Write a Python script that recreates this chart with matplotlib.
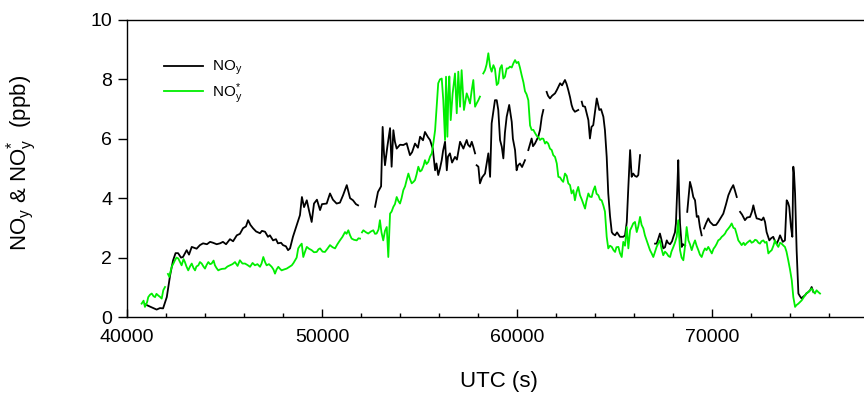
import numpy as np
import matplotlib
matplotlib.use("Agg")
import matplotlib.pyplot as plt
from matplotlib.ticker import MultipleLocator

plt.rcParams['font.family'] = ['Liberation Sans', 'DejaVu Sans']
plt.rcParams['mathtext.fontset'] = 'custom'
plt.rcParams['mathtext.rm'] = 'Liberation Sans'
plt.rcParams['mathtext.it'] = 'Liberation Sans:italic'

nan = np.nan

# NOy (black) : UTC seconds and ppb (nan = data gap)
noy_t = [40920, 41180, 41520, 41690, 41850, 42040, 42210, 42360, 42490, 42620,
         42770, 42870, 43060, 43180, 43320, 43570, 43740, 43900, 44100, 44260,
         44410, 44600, 44770, 44920, 45080, 45280, 45440, 45630, 45790, 45950,
         46100, 46210, 46330, 46460, 46620, 46820, 46920, 47080, 47230, 47330,
         47490, 47640, 47740, 47900, 48000, 48150, 48260, 48360, 48510, 48700,
         48870, 48970, 49080, 49220, 49330, 49470, 49590, 49740, 49900, 50000,
         50240, 50410, 50560, 50750, 50920, 51080, 51270, 51440, 51590, 51740,
         51850, 52300,
         52720, 52870, 53030, 53110, 53180, 53230, 53350, 53490, 53570, 53660,
         53740, 53830, 54000, 54170, 54340, 54510, 54620, 54770, 54920, 55030,
         55180, 55280, 55440, 55540, 55680, 55800, 55870, 55960, 56050, 56140,
         56210, 56310, 56400, 56460, 56560, 56670, 56820, 56920, 57080, 57250,
         57420, 57490, 57590, 57680, 57760, 57850, 57890,
         57930, 58020, 58100, 58210, 58360, 58530, 58620, 58700, 58740, 58870,
         58960, 59040, 59130, 59220, 59300, 59380, 59470, 59600, 59730, 59790,
         59900, 59980, 60050, 60150, 60260, 60410, 60500,
         60580, 60750, 60820, 60920, 61090, 61180, 61270, 61350, 61440,
         61520, 61590, 61690, 61800, 61950, 62050, 62210, 62310, 62460, 62540,
         62630, 62720, 62800, 62870, 62970, 63140, 63230,
         63320, 63380, 63490, 63660, 63740, 63820, 63910, 64000, 64090, 64220,
         64310, 64430, 64510, 64600, 64680, 64770, 64860, 64920, 65030, 65130,
         65280, 65450, 65540, 65630, 65710, 65800, 65880, 65960, 66050, 66140,
         66220, 66310, 66700,
         67080, 67160, 67230, 67330, 67410, 67500, 67590, 67680, 67740, 67850,
         67950, 68020, 68100, 68150, 68230, 68270, 68310, 68360, 68450, 68510,
         68620, 68680,
         68730, 68820, 68870, 68950, 69040, 69130, 69220, 69300, 69380, 69470, 69530,
         69590, 69690, 69810, 69900, 70070, 70210, 70320, 70460, 70580, 70720,
         70840, 70970, 71090, 71180, 71270, 71350,
         71440, 71540, 71690, 71800, 71950, 72050, 72120, 72210, 72290, 72410,
         72550, 72640, 72720, 72800, 72940, 73030, 73140, 73230, 73320, 73410,
         73490, 73630, 73740, 73830, 73900, 73960, 74050, 74120, 74170, 74210,
         74260, 74340, 74430, 74510, 74600, 74670, 74770, 74850, 74940, 75030,
         75110, 75200]
noy_v = [0.43, 0.35, 0.25, 0.30, 0.29, 0.67, 1.40, 1.90, 2.15, 2.15,
         2.00, 2.02, 2.25, 2.10, 2.36, 2.30, 2.42, 2.48, 2.45, 2.53,
         2.50, 2.45, 2.48, 2.53, 2.45, 2.62, 2.55, 2.75, 2.80, 2.99,
         3.05, 3.26, 3.10, 2.99, 2.88, 2.82, 2.90, 2.87, 2.70, 2.75,
         2.58, 2.62, 2.48, 2.50, 2.42, 2.38, 2.25, 2.31, 2.70, 3.09,
         3.43, 4.04, 3.70, 3.93, 3.60, 3.20, 3.82, 3.95, 3.60, 3.80,
         3.82, 4.16, 3.95, 3.82, 3.85, 4.10, 4.44, 4.00, 3.93, 3.80,
         3.76, nan,
         3.71, 4.21, 4.40, 6.40, 5.50, 5.11, 5.73, 6.36, 5.06, 6.29,
         5.90, 5.67, 5.80, 5.79, 5.85, 5.45, 5.55, 5.84, 5.70, 6.07,
         5.95, 6.23, 6.05, 5.96, 5.67, 4.94, 5.17, 4.78, 5.00, 5.28,
         5.60, 5.90, 4.94, 5.40, 5.51, 5.20, 5.39, 5.30, 5.90, 5.67,
         5.96, 5.80, 5.73, 5.90, 5.73, 5.51, nan,
         5.11, 5.06, 4.50, 4.70, 4.83, 5.51, 4.72, 6.52, 6.70, 7.30,
         7.30, 6.97, 5.96, 5.73, 5.34, 6.20, 6.74, 7.14, 6.57, 6.00,
         5.62, 4.94, 5.10, 5.17, 5.05, 5.28, nan,
         5.62, 6.01, 5.75, 5.84, 6.07, 6.30, 6.74, 6.97, nan,
         7.58, 7.45, 7.36, 7.45, 7.53, 7.65, 7.87, 7.80, 7.98, 7.85,
         7.64, 7.40, 7.14, 7.00, 6.91, 6.97, nan,
         7.25, 7.10, 7.08, 6.63, 6.01, 6.40, 6.46, 6.90, 7.36, 6.97,
         7.00, 6.74, 6.29, 5.39, 4.16, 3.40, 2.86, 2.80, 2.75, 2.85,
         2.70, 2.70, 2.75, 3.20, 4.38, 5.62, 4.72, 4.83, 4.75, 4.72,
         4.78, 5.45, nan,
         2.47, 2.47, 2.60, 2.81, 2.60, 2.31, 2.35, 2.58, 2.50, 2.45,
         2.55, 2.70, 2.85, 3.15, 4.50, 5.28, 4.20, 3.15, 2.36, 2.45,
         2.40, nan,
         3.54, 4.20, 4.55, 4.35, 4.04, 3.93, 3.37, 3.40, 3.03, 2.75, nan,
         2.98, 3.15, 3.32, 3.20, 3.09, 3.10, 3.20, 3.35, 3.48, 3.80,
         4.10, 4.30, 4.44, 4.25, 4.04, nan,
         3.54, 3.45, 3.26, 3.35, 3.37, 3.55, 3.76, 3.50, 3.32, 3.30,
         3.26, 3.35, 3.20, 2.86, 2.58, 2.65, 2.70, 2.55, 2.47, 2.60,
         2.75, 2.53, 2.58, 3.93, 3.85, 3.71, 3.03, 2.70, 5.06, 4.80,
         4.16, 2.25, 0.79, 0.70, 0.62, 0.68, 0.73, 0.80, 0.84, 0.90,
         1.01, 0.84]

# NOy* (green)
noys_t = [40750, 40850, 40920, 41030, 41090, 41180, 41270, 41360, 41440, 41510,
          41610, 41690, 41780, 41860, 41950, 42020,
          42100, 42170, 42290, 42380, 42460, 42540, 42630, 42720, 42800, 42900,
          42970, 43050, 43140, 43230, 43320, 43410, 43490, 43560, 43660, 43740,
          43830, 43920, 44000, 44080, 44170, 44260, 44340, 44440, 44510, 44590,
          44680, 44770, 44870, 45030, 45150, 45280, 45410, 45540, 45670, 45790,
          45920, 46050, 46180, 46310, 46440, 46560, 46690, 46820, 46900, 46990,
          47080, 47160, 47280, 47420, 47510, 47590, 47670, 47760, 47850, 47930,
          48050, 48190, 48310, 48450, 48540, 48620, 48700, 48780, 48870, 48960,
          49040, 49130, 49220, 49330, 49470, 49590, 49730, 49820, 49900, 50030,
          50150, 50280, 50410, 50540, 50670, 50790, 50920, 51050, 51180, 51260,
          51350, 51440, 51520, 51640, 51780, 51870, 51950, 52000,
          52050, 52120, 52260, 52370, 52510, 52630, 52720, 52800, 52900, 52970,
          53050, 53140, 53230, 53320, 53400, 53490, 53570, 53660, 53740, 53830,
          53920, 54000, 54080, 54170, 54260, 54340, 54430, 54510, 54600, 54690,
          54770, 54850, 54940, 55030, 55110, 55210, 55280, 55360, 55450, 55540,
          55630, 55720, 55800, 55880, 55960, 56050, 56140, 56220, 56310, 56360,
          56430, 56480, 56530, 56600, 56700, 56820, 56910, 56990, 57080, 57160,
          57280, 57360, 57420, 57490, 57590, 57670, 57760, 57850, 57930, 58020,
          58100, 58180,
          58270, 58360, 58440, 58530, 58620, 58700, 58790, 58870, 58960, 59040,
          59130, 59220, 59300, 59380, 59470, 59550, 59640, 59730, 59820, 59900,
          59980, 60070, 60150, 60240, 60330, 60410, 60490, 60580, 60670, 60750,
          60840, 60920, 61010, 61100, 61180, 61270, 61350, 61440, 61510, 61600,
          61690, 61780, 61860, 61950, 62040, 62120, 62210, 62290, 62370, 62460,
          62550, 62630, 62720, 62800, 62890, 62970, 63050, 63140, 63230, 63320,
          63410, 63490, 63560, 63660, 63740, 63830, 63910, 64000, 64080, 64170,
          64260, 64340, 64430, 64510, 64600, 64680, 64770, 64860, 64950, 65030,
          65100, 65200, 65280, 65370, 65450, 65540, 65630, 65710, 65800, 65880,
          65960, 66050, 66140, 66220, 66310, 66390, 66480, 66560, 66650, 66740,
          66820, 66900, 66990, 67080, 67160, 67260, 67330, 67410, 67500, 67590,
          67680, 67770, 67850, 67920, 68020, 68100, 68190, 68270, 68360, 68440,
          68530, 68620, 68700, 68790, 68870, 68960, 69050, 69130, 69210, 69300,
          69380, 69470, 69560, 69640, 69720, 69810, 69900, 69990, 70080, 70150,
          70230, 70320, 70410, 70500, 70590, 70670, 70740, 70840, 70920, 71010,
          71100, 71180, 71260, 71350, 71440, 71520, 71620, 71690, 71800, 71950,
          72030, 72120, 72210, 72290, 72380, 72460, 72540, 72630, 72720, 72800,
          72890, 72970, 73060, 73150, 73230, 73310, 73400, 73490, 73570, 73670,
          73740, 73820, 73910, 74000, 74090, 74170, 74260, 74330, 74430, 74510,
          74600, 74690, 74770, 74850, 74940, 75030, 75110, 75210, 75280, 75360,
          75450, 75540]
noys_v = [0.45, 0.55, 0.34, 0.50, 0.67, 0.75, 0.79, 0.70, 0.67, 0.78,
          0.72, 0.68, 0.62, 0.90, 1.01, nan,
          1.45, 1.35, 1.69, 1.80, 1.91, 2.00, 1.97, 1.85, 1.74, 1.95,
          1.85, 1.70, 1.57, 1.70, 1.80, 1.65, 1.57, 1.70, 1.74, 1.85,
          1.80, 1.70, 1.63, 1.75, 1.85, 1.78, 1.80, 1.90, 1.74, 1.65,
          1.57, 1.60, 1.62, 1.63, 1.70, 1.74, 1.78, 1.85, 1.72, 1.91,
          1.80, 1.80, 1.75, 1.69, 1.82, 1.74, 1.78, 1.69, 1.80, 2.02,
          1.85, 1.74, 1.78, 1.69, 1.60, 1.46, 1.60, 1.69, 1.62, 1.57,
          1.60, 1.63, 1.68, 1.74, 1.82, 1.91, 2.00, 2.31, 2.40, 2.47,
          2.02, 2.20, 2.36, 2.30, 2.25, 2.18, 2.19, 2.28, 2.31, 2.20,
          2.19, 2.30, 2.42, 2.35, 2.31, 2.45, 2.58, 2.70, 2.86, 2.80,
          2.92, 2.75, 2.64, 2.60, 2.58, 2.65, 2.64, nan,
          2.85, 2.92, 2.85, 2.81, 2.88, 2.92, 2.80, 2.81, 2.95, 3.26,
          2.85, 2.58, 2.90, 3.03, 2.02, 3.48, 3.55, 3.71, 3.80, 4.04,
          3.90, 3.82, 4.00, 4.27, 4.40, 4.61, 4.83, 4.65, 4.50, 4.55,
          4.61, 4.80, 5.06, 4.90, 4.94, 5.10, 5.28, 5.15, 5.22, 5.40,
          5.51, 5.90, 6.29, 7.08, 7.87, 8.00, 8.03, 7.30, 5.96, 8.09,
          6.07, 7.50, 8.10, 6.63, 7.53, 8.20, 6.86, 8.26, 7.08, 8.31,
          6.97, 7.30, 7.53, 7.40, 7.19, 7.60, 7.98, 7.08, 7.19, 7.30,
          7.42, nan,
          8.20, 8.31, 8.50, 8.88, 8.43, 8.26, 8.48, 8.35, 7.81, 7.87,
          8.37, 8.48, 8.03, 8.09, 8.37, 8.37, 8.43, 8.40, 8.55, 8.65,
          8.55, 8.59, 8.40, 8.14, 7.90, 7.60, 7.50, 7.30, 6.45, 6.30,
          6.30, 6.20, 6.10, 6.05, 5.96, 6.01, 6.00, 5.84, 5.90, 5.84,
          5.67, 5.62, 5.45, 5.39, 5.17, 4.72, 4.70, 4.61, 4.55, 4.83,
          4.75, 4.50, 4.44, 4.16, 4.27, 3.93, 4.20, 4.38, 4.10, 3.96,
          3.80, 3.65, 3.90, 4.16, 4.05, 4.04, 4.25, 4.40, 4.15, 4.10,
          3.95, 3.93, 3.75, 3.55, 2.70, 2.31, 2.40, 2.36, 2.25, 2.19,
          2.35, 2.36, 2.15, 2.02, 2.53, 2.40, 3.03, 2.31, 2.92, 3.03,
          3.15, 3.20, 2.86, 3.05, 3.37, 3.10, 2.98, 2.75, 2.58, 2.40,
          2.25, 2.15, 2.02, 2.20, 2.36, 2.50, 2.58, 2.30, 2.08, 2.20,
          2.14, 2.05, 2.02, 2.20, 2.36, 2.50, 2.70, 3.26, 2.25, 2.00,
          1.91, 2.40, 3.03, 2.58, 2.45, 2.25, 2.45, 2.58, 2.40, 2.25,
          2.10, 2.02, 2.20, 2.31, 2.25, 2.36, 2.25, 2.14, 2.30, 2.36,
          2.45, 2.58, 2.62, 2.70, 2.75, 2.81, 2.90, 2.98, 3.05, 3.15,
          3.00, 2.98, 2.80, 2.58, 2.50, 2.42, 2.50, 2.42, 2.50, 2.58,
          2.50, 2.53, 2.60, 2.58, 2.50, 2.47, 2.55, 2.58, 2.50, 2.53,
          2.14, 2.20, 2.25, 2.40, 2.58, 2.45, 2.36, 2.50, 2.47, 2.40,
          2.36, 2.20, 1.91, 1.60, 1.24, 0.67, 0.34, 0.40, 0.45, 0.50,
          0.56, 0.65, 0.73, 0.80, 0.84, 0.90, 0.96, 0.85, 0.79, 0.90,
          0.84, 0.79]

x_ticks = [40000, 50000, 60000, 70000]
y_ticks = [0, 2, 4, 6, 8, 10]

W, H = 864, 396
fig = plt.figure(figsize=(W / 100, H / 100), dpi=100)
ax = fig.add_axes([127 / W, 1 - 317 / H, (907 - 127) / W, (317 - 20) / H])

ax.plot(noy_t, noy_v, color='black', lw=1.3, label=r'NO$_\mathregular{y}$')
ax.plot(noys_t, noys_v, color='#00ee00', lw=1.3, label=r'NO$_\mathregular{y}^\mathregular{*}$')

ax.set_xlim(40000, 80000)
ax.set_ylim(0, 10)
ax.set_xticks(x_ticks)
ax.set_yticks(y_ticks)
ax.xaxis.set_minor_locator(MultipleLocator(2000))
ax.tick_params(axis='x', which='major', direction='in', length=6, width=1, labelsize=14, pad=9)
ax.tick_params(axis='x', which='minor', direction='in', length=3.2, width=1)
ax.tick_params(axis='y', which='major', direction='out', length=6.7, width=1, labelsize=14, pad=4)
for s in ax.spines.values():
    s.set_linewidth(1.0)
ax.spines['right'].set_visible(False)

ax.set_xlabel('UTC (s)', fontsize=16, va='center')
ax.xaxis.set_label_coords((499 - 127) / 780, (317 - 381) / 297)
ax.set_ylabel(r'NO$_\mathregular{y}$ & NO$_\mathregular{y}^\mathregular{*}$  (ppb)', fontsize=16, va='center')
ax.yaxis.set_label_coords((22 - 127) / 780, 0.52)

leg = ax.legend(loc='upper left', bbox_to_anchor=(0.03, 0.915), frameon=False,
                fontsize=11, handlelength=2.55, handletextpad=0.6, labelspacing=0.25)

fig.savefig('out.png', dpi=100)
